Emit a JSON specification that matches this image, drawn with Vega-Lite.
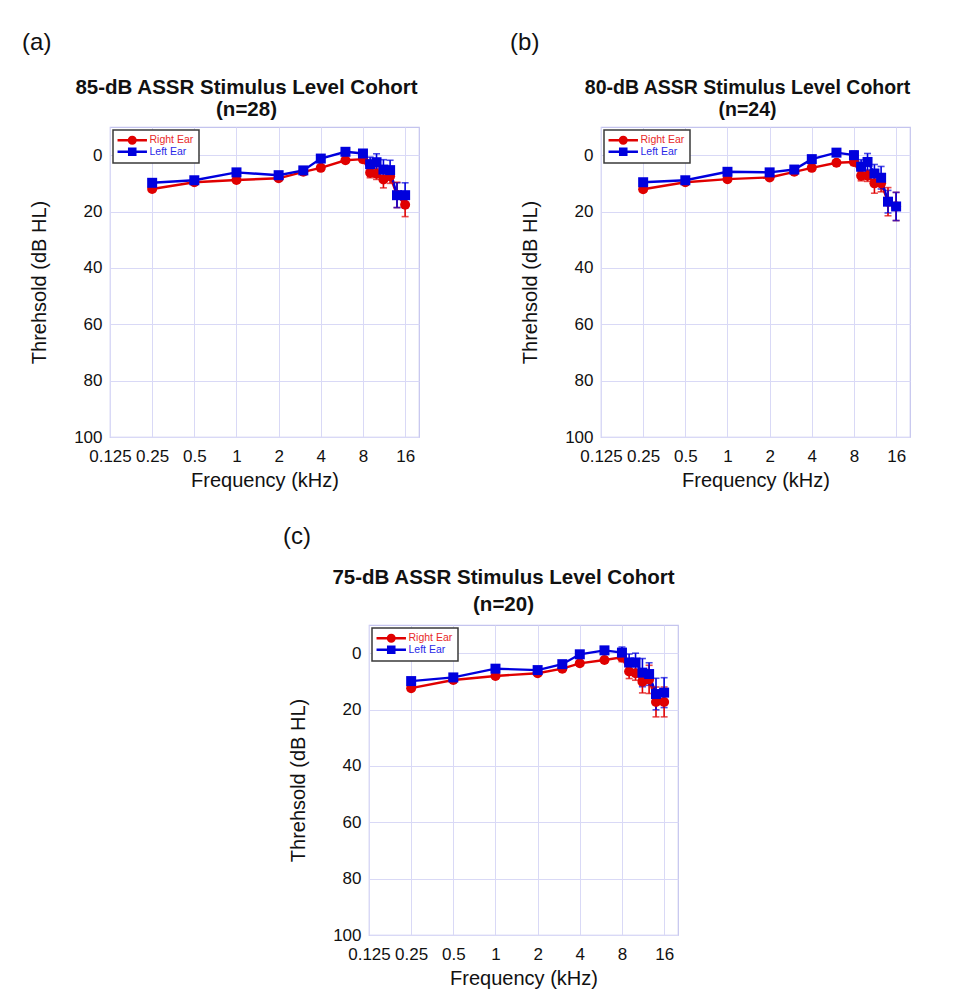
{
  "$schema": "https://vega.github.io/schema/vega-lite/v6.json",
  "background": "white",
  "padding": {"left": 22, "top": 30, "right": 10, "bottom": 10},
  "config": {
    "font": "Liberation Sans",
    "view": {"stroke": "#c4c4ee", "strokeWidth": 1.2},
    "axis": {
      "grid": true, "gridColor": "#d9d9f6", "gridWidth": 1,
      "domain": false, "ticks": false, "tickSize": 0,
      "labelFont": "Liberation Sans", "labelFontSize": 17, "labelColor": "#111111",
      "titleFont": "Liberation Sans", "titleFontSize": 20, "titleFontWeight": "normal", "titleColor": "#111111"
    },
    "legend": {
      "title": null, "orient": "top-left", "offset": 3, "padding": 5, "fillColor": "white", "strokeColor": "#3a3a3a",
      "labelFontSize": 10.5, "symbolSize": 81, "symbolStrokeWidth": 0, "symbolOffset": 9, "labelOffset": 12, "rowPadding": 0.5
    },
    "title": {"font": "Liberation Sans", "color": "#111111"}
  },
  "datasets": {
    "audio": [
      {"panel": "a", "ear": "Right Ear", "freq": 0.25, "thr": 12.0, "err": 0.8},
      {"panel": "a", "ear": "Right Ear", "freq": 0.5, "thr": 9.6, "err": 0.8},
      {"panel": "a", "ear": "Right Ear", "freq": 1, "thr": 8.8, "err": 0.8},
      {"panel": "a", "ear": "Right Ear", "freq": 2, "thr": 8.2, "err": 0.8},
      {"panel": "a", "ear": "Right Ear", "freq": 3, "thr": 5.9, "err": 0.8},
      {"panel": "a", "ear": "Right Ear", "freq": 4, "thr": 4.5, "err": 0.8},
      {"panel": "a", "ear": "Right Ear", "freq": 6, "thr": 1.8, "err": 1.0},
      {"panel": "a", "ear": "Right Ear", "freq": 8, "thr": 1.4, "err": 1.2},
      {"panel": "a", "ear": "Right Ear", "freq": 9, "thr": 6.2, "err": 1.8},
      {"panel": "a", "ear": "Right Ear", "freq": 10, "thr": 6.6, "err": 2.0},
      {"panel": "a", "ear": "Right Ear", "freq": 11.2, "thr": 8.6, "err": 3.0},
      {"panel": "a", "ear": "Right Ear", "freq": 12.5, "thr": 7.5, "err": 2.5},
      {"panel": "a", "ear": "Right Ear", "freq": 14, "thr": 14.1, "err": 4.5},
      {"panel": "a", "ear": "Right Ear", "freq": 16, "thr": 17.6, "err": 4.2},
      {"panel": "a", "ear": "Left Ear", "freq": 0.25, "thr": 9.8, "err": 0.8},
      {"panel": "a", "ear": "Left Ear", "freq": 0.5, "thr": 8.9, "err": 0.8},
      {"panel": "a", "ear": "Left Ear", "freq": 1, "thr": 6.1, "err": 0.8},
      {"panel": "a", "ear": "Left Ear", "freq": 2, "thr": 7.1, "err": 0.8},
      {"panel": "a", "ear": "Left Ear", "freq": 3, "thr": 5.4, "err": 0.8},
      {"panel": "a", "ear": "Left Ear", "freq": 4, "thr": 1.2, "err": 0.8},
      {"panel": "a", "ear": "Left Ear", "freq": 6, "thr": -1.2, "err": 1.0},
      {"panel": "a", "ear": "Left Ear", "freq": 8, "thr": -0.6, "err": 1.2},
      {"panel": "a", "ear": "Left Ear", "freq": 9, "thr": 3.2, "err": 2.5},
      {"panel": "a", "ear": "Left Ear", "freq": 10, "thr": 2.5, "err": 3.0},
      {"panel": "a", "ear": "Left Ear", "freq": 11.2, "thr": 5.1, "err": 3.5},
      {"panel": "a", "ear": "Left Ear", "freq": 12.5, "thr": 5.3, "err": 3.5},
      {"panel": "a", "ear": "Left Ear", "freq": 14, "thr": 14.2, "err": 4.4},
      {"panel": "a", "ear": "Left Ear", "freq": 16, "thr": 14.2, "err": 4.4},
      {"panel": "b", "ear": "Right Ear", "freq": 0.25, "thr": 12.1, "err": 0.8},
      {"panel": "b", "ear": "Right Ear", "freq": 0.5, "thr": 9.6, "err": 0.8},
      {"panel": "b", "ear": "Right Ear", "freq": 1, "thr": 8.5, "err": 0.8},
      {"panel": "b", "ear": "Right Ear", "freq": 2, "thr": 7.9, "err": 0.8},
      {"panel": "b", "ear": "Right Ear", "freq": 3, "thr": 5.9, "err": 0.8},
      {"panel": "b", "ear": "Right Ear", "freq": 4, "thr": 4.5, "err": 0.8},
      {"panel": "b", "ear": "Right Ear", "freq": 6, "thr": 2.7, "err": 1.0},
      {"panel": "b", "ear": "Right Ear", "freq": 8, "thr": 2.4, "err": 1.2},
      {"panel": "b", "ear": "Right Ear", "freq": 9, "thr": 7.3, "err": 1.8},
      {"panel": "b", "ear": "Right Ear", "freq": 10, "thr": 7.3, "err": 2.0},
      {"panel": "b", "ear": "Right Ear", "freq": 11.2, "thr": 10.0, "err": 3.5},
      {"panel": "b", "ear": "Right Ear", "freq": 12.5, "thr": 10.0, "err": 3.0},
      {"panel": "b", "ear": "Right Ear", "freq": 14, "thr": 16.5, "err": 5.0},
      {"panel": "b", "ear": "Right Ear", "freq": 16, "thr": 18.2, "err": 5.0},
      {"panel": "b", "ear": "Left Ear", "freq": 0.25, "thr": 9.6, "err": 0.8},
      {"panel": "b", "ear": "Left Ear", "freq": 0.5, "thr": 8.9, "err": 0.8},
      {"panel": "b", "ear": "Left Ear", "freq": 1, "thr": 5.9, "err": 0.8},
      {"panel": "b", "ear": "Left Ear", "freq": 2, "thr": 6.1, "err": 0.8},
      {"panel": "b", "ear": "Left Ear", "freq": 3, "thr": 5.1, "err": 0.8},
      {"panel": "b", "ear": "Left Ear", "freq": 4, "thr": 1.4, "err": 0.8},
      {"panel": "b", "ear": "Left Ear", "freq": 6, "thr": -0.9, "err": 1.0},
      {"panel": "b", "ear": "Left Ear", "freq": 8, "thr": 0.0, "err": 1.5},
      {"panel": "b", "ear": "Left Ear", "freq": 9, "thr": 4.1, "err": 2.5},
      {"panel": "b", "ear": "Left Ear", "freq": 10, "thr": 2.4, "err": 3.0},
      {"panel": "b", "ear": "Left Ear", "freq": 11.2, "thr": 6.5, "err": 3.2},
      {"panel": "b", "ear": "Left Ear", "freq": 12.5, "thr": 8.0, "err": 4.0},
      {"panel": "b", "ear": "Left Ear", "freq": 14, "thr": 16.5, "err": 4.0},
      {"panel": "b", "ear": "Left Ear", "freq": 16, "thr": 18.2, "err": 5.0},
      {"panel": "c", "ear": "Right Ear", "freq": 0.25, "thr": 12.4, "err": 0.8},
      {"panel": "c", "ear": "Right Ear", "freq": 0.5, "thr": 9.5, "err": 0.8},
      {"panel": "c", "ear": "Right Ear", "freq": 1, "thr": 8.1, "err": 0.8},
      {"panel": "c", "ear": "Right Ear", "freq": 2, "thr": 7.1, "err": 0.8},
      {"panel": "c", "ear": "Right Ear", "freq": 3, "thr": 5.5, "err": 0.8},
      {"panel": "c", "ear": "Right Ear", "freq": 4, "thr": 3.6, "err": 0.8},
      {"panel": "c", "ear": "Right Ear", "freq": 6, "thr": 2.4, "err": 1.0},
      {"panel": "c", "ear": "Right Ear", "freq": 8, "thr": 1.5, "err": 1.5},
      {"panel": "c", "ear": "Right Ear", "freq": 9, "thr": 6.5, "err": 2.5},
      {"panel": "c", "ear": "Right Ear", "freq": 10, "thr": 7.1, "err": 2.5},
      {"panel": "c", "ear": "Right Ear", "freq": 11.2, "thr": 10.1, "err": 4.0},
      {"panel": "c", "ear": "Right Ear", "freq": 12.5, "thr": 9.3, "err": 5.0},
      {"panel": "c", "ear": "Right Ear", "freq": 14, "thr": 17.3, "err": 5.3},
      {"panel": "c", "ear": "Right Ear", "freq": 16, "thr": 17.3, "err": 5.3},
      {"panel": "c", "ear": "Left Ear", "freq": 0.25, "thr": 9.9, "err": 0.8},
      {"panel": "c", "ear": "Left Ear", "freq": 0.5, "thr": 8.6, "err": 0.8},
      {"panel": "c", "ear": "Left Ear", "freq": 1, "thr": 5.5, "err": 0.8},
      {"panel": "c", "ear": "Left Ear", "freq": 2, "thr": 6.0, "err": 0.8},
      {"panel": "c", "ear": "Left Ear", "freq": 3, "thr": 3.9, "err": 0.8},
      {"panel": "c", "ear": "Left Ear", "freq": 4, "thr": 0.4, "err": 0.8},
      {"panel": "c", "ear": "Left Ear", "freq": 6, "thr": -1.0, "err": 1.0},
      {"panel": "c", "ear": "Left Ear", "freq": 8, "thr": -0.2, "err": 2.0},
      {"panel": "c", "ear": "Left Ear", "freq": 9, "thr": 3.3, "err": 3.0},
      {"panel": "c", "ear": "Left Ear", "freq": 10, "thr": 3.3, "err": 3.3},
      {"panel": "c", "ear": "Left Ear", "freq": 11.2, "thr": 6.9, "err": 5.0},
      {"panel": "c", "ear": "Left Ear", "freq": 12.5, "thr": 7.4, "err": 4.0},
      {"panel": "c", "ear": "Left Ear", "freq": 14, "thr": 14.5, "err": 5.6},
      {"panel": "c", "ear": "Left Ear", "freq": 16, "thr": 14.0, "err": 5.3}
    ]
  },
  "resolve": {"scale": {"color": "independent"}, "legend": {"color": "independent"}},
  "spacing": 33,
  "vconcat": [
    {
      "spacing": 90,
      "resolve": {"scale": {"color": "independent"}, "legend": {"color": "independent"}},
      "hconcat": [
        {
          "title": {"text": "(a)", "anchor": "start", "fontSize": 24, "fontWeight": "normal", "dx": -7, "offset": 22},
          "resolve": {"scale": {"color": "independent"}, "legend": {"color": "independent"}},
          "vconcat": [
            {
              "width": 309, "height": 310,
              "title": {"text": ["85-dB ASSR Stimulus Level Cohort", "(n=28)"], "fontSize": 20.5, "fontWeight": "bold", "anchor": "middle", "dx": -18, "offset": 7, "lineHeight": 22},
              "data": {"name": "audio"},
              "transform": [{"filter": "datum.panel === 'a'"}],
              "encoding": {
                "x": {"field": "freq", "type": "quantitative", "scale": {"type": "log", "base": 2, "domain": [0.125, 20.1], "nice": false},
                      "axis": {"values": [0.125, 0.25, 0.5, 1, 2, 4, 8, 16], "labelExpr": "'' + datum.value", "labelFlush": false, "labelOverlap": false, "labelPadding": 11, "titlePadding": 6, "title": "Frequency (kHz)"}},
                "y": {"field": "thr", "type": "quantitative", "scale": {"domain": [-10, 100], "reverse": true, "nice": false, "zero": false},
                      "axis": {"values": [0, 20, 40, 60, 80, 100], "labelPadding": 8, "titlePadding": 24, "title": "Threhsold (dB HL)"}},
                "color": {"field": "ear", "type": "nominal", "scale": {"domain": ["Right Ear", "Left Ear"], "range": ["#e00000", "#0000dd"]},
                          "legend": {"encoding": {
                            "legend": {"strokeWidth": {"value": 1.5}},
                            "symbols": {
                              "shape": {"condition": {"test": "datum.value === 'Right Ear'", "value": "M-3.27,-0.26H3.27V0.26H-3.27Z M1,0A1,1,0,1,1,-1,0A1,1,0,1,1,1,0Z"}, "value": "M-3.27,-0.26H3.27V0.26H-3.27Z M-0.95,-0.95H0.95V0.95H-0.95Z"},
                              "fill": {"condition": {"test": "datum.value === 'Right Ear'", "value": "#e00000"}, "value": "#0000dd"},
                              "stroke": {"value": "transparent"}, "opacity": {"value": 1}},
                            "labels": {"fill": {"condition": {"test": "datum.value === 'Right Ear'", "value": "#e82a2a"}, "value": "#2a2ae8"}}
                          }}}
              },
              "layer": [
                {"mark": {"type": "line", "strokeWidth": 2.4}, "encoding": {}},
                {"mark": {"type": "errorbar", "ticks": {"size": 7}, "thickness": 1.6}, "encoding": {"yError": {"field": "err"}}},
                {"transform": [{"filter": "datum.ear === 'Right Ear'"}], "mark": {"type": "point", "shape": "circle", "filled": true, "opacity": 1, "size": 100}},
                {"transform": [{"filter": "datum.ear === 'Left Ear'"}], "mark": {"type": "point", "shape": "square", "filled": true, "opacity": 1, "size": 100}}
              ]
            }
          ]
        },
        {
          "title": {"text": "(b)", "anchor": "start", "fontSize": 24, "fontWeight": "normal", "dx": -10, "offset": 22},
          "resolve": {"scale": {"color": "independent"}, "legend": {"color": "independent"}},
          "vconcat": [
            {
              "width": 309, "height": 310,
              "title": {"text": ["80-dB ASSR Stimulus Level Cohort", "(n=24)"], "fontSize": 19.5, "fontWeight": "bold", "anchor": "middle", "dx": -8, "offset": 7, "lineHeight": 22},
              "data": {"name": "audio"},
              "transform": [{"filter": "datum.panel === 'b'"}],
              "encoding": {
                "x": {"field": "freq", "type": "quantitative", "scale": {"type": "log", "base": 2, "domain": [0.125, 20.1], "nice": false},
                      "axis": {"values": [0.125, 0.25, 0.5, 1, 2, 4, 8, 16], "labelExpr": "'' + datum.value", "labelFlush": false, "labelOverlap": false, "labelPadding": 11, "titlePadding": 6, "title": "Frequency (kHz)"}},
                "y": {"field": "thr", "type": "quantitative", "scale": {"domain": [-10, 100], "reverse": true, "nice": false, "zero": false},
                      "axis": {"values": [0, 20, 40, 60, 80, 100], "labelPadding": 8, "titlePadding": 24, "title": "Threhsold (dB HL)"}},
                "color": {"field": "ear", "type": "nominal", "scale": {"domain": ["Right Ear", "Left Ear"], "range": ["#e00000", "#0000dd"]},
                          "legend": {"encoding": {
                            "legend": {"strokeWidth": {"value": 1.5}},
                            "symbols": {
                              "shape": {"condition": {"test": "datum.value === 'Right Ear'", "value": "M-3.27,-0.26H3.27V0.26H-3.27Z M1,0A1,1,0,1,1,-1,0A1,1,0,1,1,1,0Z"}, "value": "M-3.27,-0.26H3.27V0.26H-3.27Z M-0.95,-0.95H0.95V0.95H-0.95Z"},
                              "fill": {"condition": {"test": "datum.value === 'Right Ear'", "value": "#e00000"}, "value": "#0000dd"},
                              "stroke": {"value": "transparent"}, "opacity": {"value": 1}},
                            "labels": {"fill": {"condition": {"test": "datum.value === 'Right Ear'", "value": "#e82a2a"}, "value": "#2a2ae8"}}
                          }}}
              },
              "layer": [
                {"mark": {"type": "line", "strokeWidth": 2.4}, "encoding": {}},
                {"mark": {"type": "errorbar", "ticks": {"size": 7}, "thickness": 1.6}, "encoding": {"yError": {"field": "err"}}},
                {"transform": [{"filter": "datum.ear === 'Right Ear'"}], "mark": {"type": "point", "shape": "circle", "filled": true, "opacity": 1, "size": 100}},
                {"transform": [{"filter": "datum.ear === 'Left Ear'"}], "mark": {"type": "point", "shape": "square", "filled": true, "opacity": 1, "size": 100}}
              ]
            }
          ]
        }
      ]
    },
    {
      "spacing": 0,
      "resolve": {"scale": {"color": "independent"}, "legend": {"color": "independent"}},
      "hconcat": [
        {"width": 173, "height": 20, "data": {"values": []}, "mark": {"type": "point"}, "view": {"stroke": null}},
        {
          "title": {"text": "(c)", "anchor": "start", "fontSize": 24, "fontWeight": "normal", "dx": -5, "offset": 18},
          "resolve": {"scale": {"color": "independent"}, "legend": {"color": "independent"}},
          "vconcat": [
            {
              "width": 309, "height": 310,
              "title": {"text": ["75-dB ASSR Stimulus Level Cohort", "(n=20)"], "fontSize": 20.5, "fontWeight": "bold", "anchor": "middle", "dx": -20, "offset": 10, "lineHeight": 27},
              "data": {"name": "audio"},
              "transform": [{"filter": "datum.panel === 'c'"}],
              "encoding": {
                "x": {"field": "freq", "type": "quantitative", "scale": {"type": "log", "base": 2, "domain": [0.125, 20.1], "nice": false},
                      "axis": {"values": [0.125, 0.25, 0.5, 1, 2, 4, 8, 16], "labelExpr": "'' + datum.value", "labelFlush": false, "labelOverlap": false, "labelPadding": 11, "titlePadding": 6, "title": "Frequency (kHz)"}},
                "y": {"field": "thr", "type": "quantitative", "scale": {"domain": [-10, 100], "reverse": true, "nice": false, "zero": false},
                      "axis": {"values": [0, 20, 40, 60, 80, 100], "labelPadding": 8, "titlePadding": 24, "title": "Threhsold (dB HL)"}},
                "color": {"field": "ear", "type": "nominal", "scale": {"domain": ["Right Ear", "Left Ear"], "range": ["#e00000", "#0000dd"]},
                          "legend": {"encoding": {
                            "legend": {"strokeWidth": {"value": 1.5}},
                            "symbols": {
                              "shape": {"condition": {"test": "datum.value === 'Right Ear'", "value": "M-3.27,-0.26H3.27V0.26H-3.27Z M1,0A1,1,0,1,1,-1,0A1,1,0,1,1,1,0Z"}, "value": "M-3.27,-0.26H3.27V0.26H-3.27Z M-0.95,-0.95H0.95V0.95H-0.95Z"},
                              "fill": {"condition": {"test": "datum.value === 'Right Ear'", "value": "#e00000"}, "value": "#0000dd"},
                              "stroke": {"value": "transparent"}, "opacity": {"value": 1}},
                            "labels": {"fill": {"condition": {"test": "datum.value === 'Right Ear'", "value": "#e82a2a"}, "value": "#2a2ae8"}}
                          }}}
              },
              "layer": [
                {"mark": {"type": "line", "strokeWidth": 2.4}, "encoding": {}},
                {"mark": {"type": "errorbar", "ticks": {"size": 7}, "thickness": 1.6}, "encoding": {"yError": {"field": "err"}}},
                {"transform": [{"filter": "datum.ear === 'Right Ear'"}], "mark": {"type": "point", "shape": "circle", "filled": true, "opacity": 1, "size": 100}},
                {"transform": [{"filter": "datum.ear === 'Left Ear'"}], "mark": {"type": "point", "shape": "square", "filled": true, "opacity": 1, "size": 100}}
              ]
            }
          ]
        }
      ]
    }
  ]
}
